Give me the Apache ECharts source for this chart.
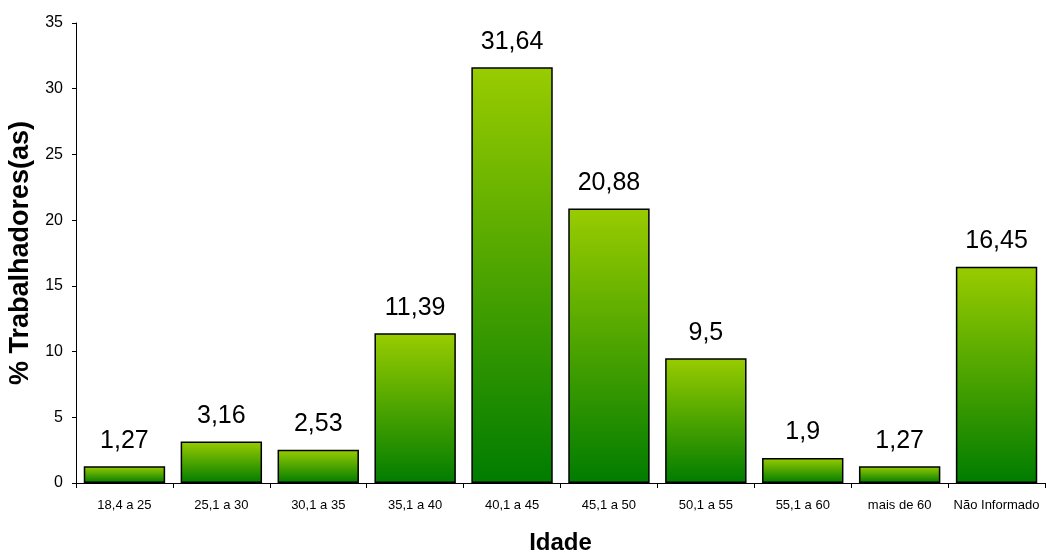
<!DOCTYPE html>
<html>
<head>
<meta charset="utf-8">
<script src="https://cdn.jsdelivr.net/npm/echarts@6/dist/echarts.min.js"></script>
<style>
  html, body { margin: 0; padding: 0; background: #fff; }
  #chart { width: 1046px; height: 554px; }
</style>
</head>
<body>
<div id="chart"></div>
<script>
// Age groups and share of workers (%)
const categories = ['18,4 a 25', '25,1 a 30', '30,1 a 35', '35,1 a 40', '40,1 a 45',
                    '45,1 a 50', '50,1 a 55', '55,1 a 60', 'mais de 60', 'Não Informado'];
const percentages = [1.27, 3.16, 2.53, 11.39, 31.64, 20.88, 9.5, 1.9, 1.27, 16.45];
const yTicks = [0, 5, 10, 15, 20, 25, 30, 35];

const font = '"Liberation Sans", Arial, sans-serif';
const chart = echarts.init(document.getElementById('chart'), null, { renderer: 'canvas' });

chart.setOption({
  animation: false,
  backgroundColor: '#ffffff',
  grid: { left: 76, right: 1, top: 23, bottom: 71, containLabel: false, outerBoundsMode: 'none' },
  xAxis: {
    type: 'category',
    data: categories,
    name: 'Idade',
    nameLocation: 'middle',
    nameGap: 48,
    nameTextStyle: { fontFamily: font, fontSize: 24, fontWeight: 'bold', color: '#000' },
    axisLine: { lineStyle: { color: '#000', width: 1 } },
    axisTick: { show: true, length: 5, alignWithLabel: false, lineStyle: { color: '#000' } },
    axisLabel: { fontFamily: font, fontSize: 13, color: '#000', margin: 16, interval: 0 }
  },
  yAxis: {
    type: 'value',
    min: yTicks[0],
    max: yTicks[yTicks.length - 1],
    interval: yTicks[1] - yTicks[0],
    name: '% Trabalhadores(as)',
    nameLocation: 'middle',
    nameGap: 40,
    nameRotate: 90,
    nameTextStyle: { fontFamily: font, fontSize: 27, fontWeight: 'bold', color: '#000' },
    axisLine: { show: true, lineStyle: { color: '#000', width: 1 } },
    axisTick: { show: true, length: 4, lineStyle: { color: '#000' } },
    axisLabel: { fontFamily: font, fontSize: 16, color: '#000', margin: 13 },
    splitLine: { show: false }
  },
  series: [{
    type: 'bar',
    data: percentages,
    barCategoryGap: '16%',
    itemStyle: {
      color: new echarts.graphic.LinearGradient(0, 0, 0, 1, [
        { offset: 0, color: '#99cc00' },
        { offset: 1, color: '#007c00' }
      ]),
      borderColor: '#000',
      borderWidth: 1.5
    },
    label: {
      show: true,
      position: 'top',
      distance: 13,
      fontFamily: font,
      fontSize: 25,
      color: '#000',
      formatter: p => String(p.value).replace('.', ',')
    }
  }]
});
</script>
</body>
</html>
